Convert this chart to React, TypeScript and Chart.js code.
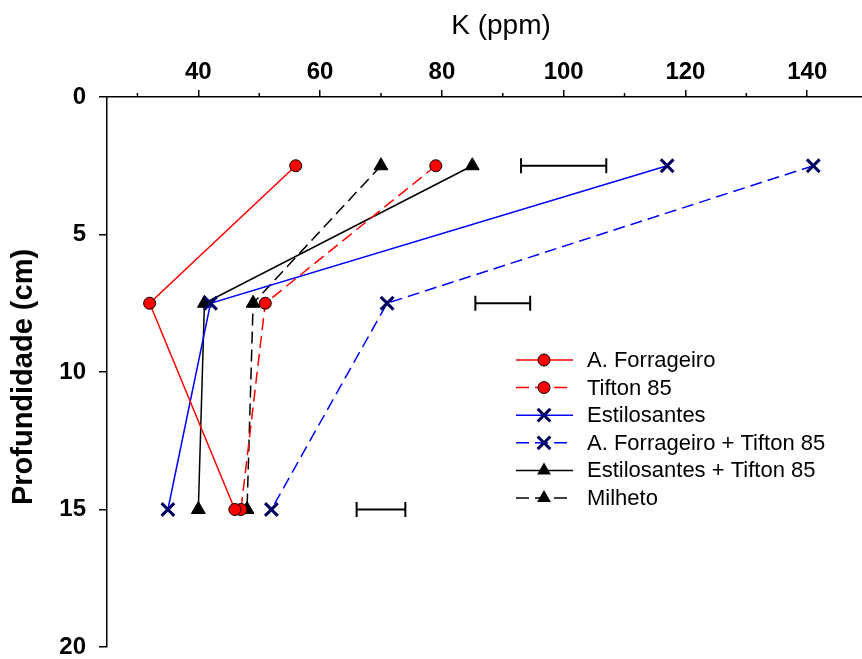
import React, { useEffect, useRef } from "react";
import { Chart, registerables } from "chart.js";

Chart.register(...registerables);

// ---- data ----
const depths = [2.5, 7.5, 15];
const aForrageiro = [56, 32, 46];
const tifton85 = [79, 51, 47];
const estilosantes = [117, 42, 35];
const aForrTifton = [141, 71, 52];
const estiloTifton = [85, 41, 40];
const milheto = [70, 49, 48];

const errLow = [93, 85.5, 66];
const errHigh = [107, 94.5, 74];

const xMajorTicks = [40, 60, 80, 100, 120, 140];
const xMinorTicks = [30, 50, 70, 90, 110, 130];
const yTicks = [0, 5, 10, 15, 20];

const seriesNames = [
  "A. Forrageiro",
  "Tifton 85",
  "Estilosantes",
  "A. Forrageiro + Tifton 85",
  "Estilosantes + Tifton 85",
  "Milheto",
];

const FONT = "'Liberation Sans', Arial, Helvetica, sans-serif";
const NAVY = "#000060";

type Style = {
  color: string;
  dash: number[];
  marker: "circle" | "triangle" | "crossRot";
};

const styles: Style[] = [
  { color: "#ff0000", dash: [], marker: "circle" },
  { color: "#ff0000", dash: [12, 6], marker: "circle" },
  { color: "#0000ff", dash: [], marker: "crossRot" },
  { color: "#0000ff", dash: [12, 6], marker: "crossRot" },
  { color: "#000000", dash: [], marker: "triangle" },
  { color: "#000000", dash: [12, 6], marker: "triangle" },
];

function markerProps(m: Style["marker"]) {
  if (m === "circle")
    return { pointStyle: "circle", pointRadius: 6, pointBackgroundColor: "#ff0000", pointBorderColor: "#000", pointBorderWidth: 1 };
  if (m === "triangle")
    return { pointStyle: "triangle", pointRadius: 8, pointBackgroundColor: "#000", pointBorderColor: "#000", pointBorderWidth: 1 };
  return { pointStyle: "crossRot", pointRadius: 9, pointBackgroundColor: NAVY, pointBorderColor: NAVY, pointBorderWidth: 3 };
}

function drawMarker(ctx: CanvasRenderingContext2D, m: Style["marker"], x: number, y: number) {
  ctx.save();
  ctx.setLineDash([]);
  if (m === "circle") {
    ctx.beginPath();
    ctx.arc(x, y, 6, 0, Math.PI * 2);
    ctx.fillStyle = "#ff0000";
    ctx.fill();
    ctx.lineWidth = 1;
    ctx.strokeStyle = "#000";
    ctx.stroke();
  } else if (m === "triangle") {
    const r = 8;
    ctx.beginPath();
    for (let i = 0; i < 3; i++) {
      const a = (i * 2 * Math.PI) / 3;
      const px = x + Math.sin(a) * r;
      const py = y - Math.cos(a) * r;
      if (i === 0) ctx.moveTo(px, py);
      else ctx.lineTo(px, py);
    }
    ctx.closePath();
    ctx.fillStyle = "#000";
    ctx.fill();
  } else {
    const d = 9 * Math.SQRT1_2;
    ctx.beginPath();
    ctx.moveTo(x - d, y - d);
    ctx.lineTo(x + d, y + d);
    ctx.moveTo(x + d, y - d);
    ctx.lineTo(x - d, y + d);
    ctx.lineWidth = 3;
    ctx.strokeStyle = NAVY;
    ctx.stroke();
  }
  ctx.restore();
}

const decorPlugin = {
  id: "decor",
  afterDraw(chart: any) {
    const ctx: CanvasRenderingContext2D = chart.ctx;
    const xs = chart.scales.x;
    const top = chart.chartArea.top;
    ctx.save();
    // minor ticks
    ctx.strokeStyle = "#000";
    ctx.lineWidth = 1.5;
    for (const v of xMinorTicks) {
      const px = xs.getPixelForValue(v);
      ctx.beginPath();
      ctx.moveTo(px, top - 4);
      ctx.lineTo(px, top);
      ctx.stroke();
    }
    // titles
    ctx.fillStyle = "#000";
    ctx.font = `28px ${FONT}`;
    ctx.textAlign = "center";
    ctx.textBaseline = "middle";
    ctx.fillText("K (ppm)", 501, 26);
    ctx.save();
    ctx.translate(24, 377);
    ctx.rotate(-Math.PI / 2);
    ctx.font = `bold 29px ${FONT}`;
    ctx.fillText("Profundidade (cm)", 0, 0);
    ctx.restore();
    // legend
    const rowY = [360, 387.6, 415.2, 442.8, 470.4, 498];
    ctx.font = `22px ${FONT}`;
    ctx.textAlign = "left";
    seriesNames.forEach((name, i) => {
      const st = styles[i];
      const y = rowY[i];
      ctx.save();
      ctx.strokeStyle = st.color;
      ctx.lineWidth = 1.5;
      ctx.setLineDash(st.dash.length ? [13, 6] : []);
      ctx.beginPath();
      ctx.moveTo(516, y);
      ctx.lineTo(573, y);
      ctx.stroke();
      ctx.restore();
      drawMarker(ctx, st.marker, 544, y);
      ctx.fillStyle = "#000";
      ctx.fillText(name, 587, y + 1);
    });
    ctx.restore();
  },
};

export default function App() {
  const ref = useRef<HTMLCanvasElement | null>(null);

  useEffect(() => {
    if (!ref.current) return;
    const seriesValues = [aForrageiro, tifton85, estilosantes, aForrTifton, estiloTifton, milheto];
    const datasets: any[] = seriesValues.map((vals, i) => ({
      label: seriesNames[i],
      data: vals.map((v, j) => ({ x: v, y: depths[j] })),
      borderColor: styles[i].color,
      borderWidth: 1.5,
      borderDash: styles[i].dash,
      showLine: true,
      fill: false,
      tension: 0,
      clip: false,
      ...markerProps(styles[i].marker),
    }));
    errLow.forEach((lo, j) => {
      datasets.push({
        label: "err" + j,
        data: [
          { x: lo, y: depths[j] },
          { x: errHigh[j], y: depths[j] },
        ],
        borderColor: "#000",
        borderWidth: 2,
        showLine: true,
        pointStyle: "line",
        rotation: 90,
        pointRadius: 7.5,
        pointBorderColor: "#000",
        pointBorderWidth: 2,
      });
    });

    const chart = new Chart(ref.current, {
      type: "scatter",
      data: { datasets },
      options: {
        responsive: false,
        animation: false,
        layout: { autoPadding: false, padding: { left: 0, right: 0, top: 0, bottom: 12 } },
        plugins: { legend: { display: false }, tooltip: { enabled: false } },
        scales: {
          x: {
            type: "linear",
            position: "top",
            min: 25,
            max: 149,
            afterBuildTicks: (s: any) => {
              s.ticks = xMajorTicks.map((v) => ({ value: v }));
            },
            afterFit: (s: any) => {
              s.height = 97;
              s.paddingLeft = 0;
              s.paddingRight = 0;
            },
            ticks: {
              font: { family: FONT, size: 24, weight: "bold" },
              color: "#000",
              padding: 3,
              maxRotation: 0,
              autoSkip: false,
            },
            grid: { drawOnChartArea: false, drawTicks: true, tickLength: 7, color: "#000", lineWidth: 1.5 },
            border: { display: true, color: "#000", width: 1.5 },
          },
          y: {
            type: "linear",
            reverse: true,
            min: 0,
            max: 20,
            afterBuildTicks: (s: any) => {
              s.ticks = yTicks.map((v) => ({ value: v }));
            },
            afterFit: (s: any) => {
              s.width = 107;
              s.paddingTop = 0;
              s.paddingBottom = 0;
            },
            ticks: {
              font: { family: FONT, size: 24, weight: "bold" },
              color: "#000",
              padding: 13,
              autoSkip: false,
            },
            grid: { drawOnChartArea: false, drawTicks: true, tickLength: 8, color: "#000", lineWidth: 1.5 },
            border: { display: true, color: "#000", width: 1.5 },
          },
        },
      },
      plugins: [decorPlugin],
    });
    return () => chart.destroy();
  }, []);

  return (
    <div style={{ position: "absolute", left: 0, top: 0, width: 862, height: 659, background: "#fff" }}>
      <canvas ref={ref} width={862} height={659} />
    </div>
  );
}
